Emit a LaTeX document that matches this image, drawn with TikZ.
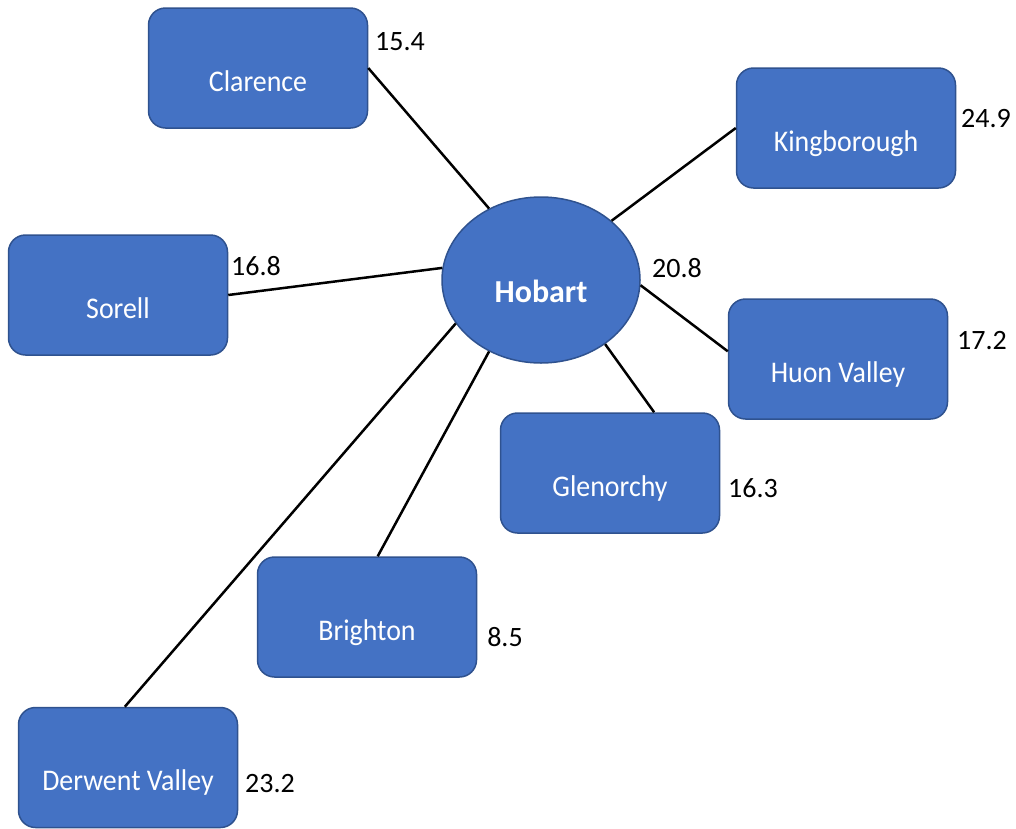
\documentclass[tikz,border=0pt]{standalone}
\usepackage{fontspec}
\setmainfont{Carlito}
\newfontfamily\boxfont[FakeStretch=0.93]{Carlito}
\usetikzlibrary{shapes.geometric}
\definecolor{boxfill}{HTML}{4472C4}
\definecolor{boxline}{HTML}{2F528F}
\begin{document}
\begin{tikzpicture}[x=1pt,y=-1pt,
  region/.style={draw=boxline, line width=1.5pt, fill=boxfill, rounded corners=17pt,
    minimum width=219pt, minimum height=120pt, inner sep=0pt,
    text=white, font=\boxfont\fontsize{30}{34}\selectfont, text height=46pt, text depth=0pt},
  hub/.style={ellipse, draw=boxline, line width=1.5pt, fill=boxfill,
    minimum width=198pt, minimum height=166pt, inner sep=0pt,
    text=white, font=\fontsize{32}{36}\selectfont\bfseries, text height=44pt, text depth=0pt},
  dist/.style={font=\fontsize{28}{32}\selectfont, inner sep=0pt},
  link/.style={line width=2.5pt, black}]
\useasboundingbox (0,0) rectangle (1016,828);

% town boxes
\node[region] (clar) at (258,68)    {Clarence};
\node[region] (king) at (846,128)   {Kingborough};
\node[region] (sore) at (118,295)   {Sorell};
\node[region] (huon) at (838,359)   {Huon Valley};
\node[region] (glen) at (610,473)   {Glenorchy};
\node[region] (brig) at (367,617)   {Brighton};
\node[region] (derw) at (128,767.5) {Derwent Valley};

% central node
\node[hub] (hob) at (541,280) {Hobart};

% connectors
\draw[link] (hob.126) -- (clar.east);
\draw[link] (hob.40)  -- (king.west);
\draw[link] (hob.173) -- (sore.east);
\draw[link] (hob.-3)  -- (huon.176);
\draw[link] (hob.-45) -- (glen.54.6);
\draw[link] (hob.-126) -- (brig.80);
\draw[link] (hob.-153) -- (derw.93);

% distances
\node[dist] (dclar) at (400,42)  {15.4};
\node[dist] (dking) at (986,119) {24.9};
\node[dist] (dsore) at (256,266) {16.8};
\node[dist] (dhob)  at (677,268) {20.8};
\node[dist] (dhuon) at (982,341) {17.2};
\node[dist] (dglen) at (753,488) {16.3};
\node[dist] (dbrig) at (505,637) {8.5};
\node[dist] (dderw) at (270,784) {23.2};
\end{tikzpicture}
\end{document}
